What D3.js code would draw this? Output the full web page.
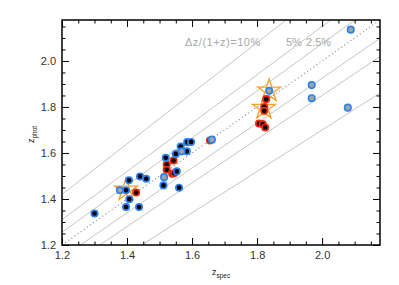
<!DOCTYPE html>
<html>
<head>
<meta charset="utf-8">
<script src="https://cdn.jsdelivr.net/npm/d3@7"></script>
<style>
  body { margin: 0; background: #fff; }
  text { font-family: "Liberation Sans", Arial, sans-serif; }
</style>
</head>
<body>
<div id="chart"></div>
<script>
// values
var majorTicks = [1.2, 1.4, 1.6, 1.8, 2.0];
var offsets = [0.025, 0.05, 0.1];

// blue ring, black centre
var blueSpec = [1.300, 1.397, 1.406, 1.407, 1.397, 1.437, 1.440, 1.459, 1.519, 1.512, 1.550, 1.565, 1.584, 1.585, 1.597, 1.560, 1.553];
var bluePhot = [1.337, 1.438, 1.481, 1.399, 1.365, 1.365, 1.498, 1.488, 1.579, 1.459, 1.596, 1.628, 1.607, 1.647, 1.648, 1.449, 1.520];

// blue ring, grey centre
var greySpec = [1.378, 1.514, 1.568, 1.661, 1.837, 1.968, 1.968, 2.079, 2.088];
var greyPhot = [1.438, 1.495, 1.607, 1.658, 1.870, 1.895, 1.838, 1.797, 2.136];

// red ring, black centre
var redSpec = [1.428, 1.522, 1.522, 1.543, 1.539, 1.545, 1.655, 1.828, 1.822, 1.822, 1.806, 1.817, 1.825];
var redPhot = [1.428, 1.550, 1.527, 1.567, 1.510, 1.512, 1.654, 1.834, 1.800, 1.783, 1.728, 1.726, 1.711];

// orange stars
var starSpec = [1.397, 1.837, 1.821];
var starPhot = [1.440, 1.870, 1.795];

var width = 399, height = 285;
var margin = { left: 62, right: 19, top: 20, bottom: 40 };

var svg = d3.select("#chart")
    .append("svg")
    .attr("width", width)
    .attr("height", height);

var x = d3.scaleLinear().domain([1.2, 2.178]).range([margin.left, width - margin.right]);
var y = d3.scaleLinear().domain([1.2, 2.178]).range([height - margin.bottom, margin.top]);

var minorTicks = d3.range(1.2, 2.18, 0.05).filter(function (v) {
    return Math.abs(Math.round(v * 5) - v * 5) > 0.01;
});

svg.append("clipPath")
    .attr("id", "plotClip")
    .append("rect")
    .attr("x", x.range()[0])
    .attr("y", y.range()[1])
    .attr("width", x.range()[1] - x.range()[0])
    .attr("height", y.range()[0] - y.range()[1]);

var plot = svg.append("g").attr("clip-path", "url(#plotClip)");

// offset lines  zphot = zspec +- k (1 + zspec)
offsets.forEach(function (k) {
    [1, -1].forEach(function (s) {
        var a = 1.0, b = 2.3;
        plot.append("line")
            .attr("x1", x(a)).attr("y1", y(a + s * k * (1 + a)))
            .attr("x2", x(b)).attr("y2", y(b + s * k * (1 + b)))
            .attr("stroke", "#c4c4c4")
            .attr("stroke-width", 1);
    });
});

plot.append("line")
    .attr("x1", x(1.2)).attr("y1", y(1.2))
    .attr("x2", x(2.3)).attr("y2", y(2.3))
    .attr("stroke", "#9a9a9a")
    .attr("stroke-width", 1.2)
    .attr("stroke-dasharray", "1.2,2.6");

// stars
var star = d3.symbol().type(d3.symbolStar).size(160);
svg.append("g").selectAll("path")
    .data(starSpec)
    .join("path")
    .attr("d", star)
    .attr("transform", function (d, i) {
        return "translate(" + x(d) + "," + y(starPhot[i]) + ")";
    })
    .attr("fill", "none")
    .attr("stroke", "#f5a027")
    .attr("stroke-width", 1.3);

function dots(spec, phot, ring, fill) {
    svg.append("g").selectAll("circle")
        .data(spec)
        .join("circle")
        .attr("cx", function (d) { return x(d); })
        .attr("cy", function (d, i) { return y(phot[i]); })
        .attr("r", 3.2)
        .attr("fill", fill)
        .attr("stroke", ring)
        .attr("stroke-width", 1.7);
}

dots(redSpec, redPhot, "#ee2a10", "#000");
dots(blueSpec, bluePhot, "#2f80ec", "#000");
dots(greySpec, greyPhot, "#2f80ec", "#a3a3a3");

// axes, ticks pointing inwards on all four sides
function ticks(axis, values, size, labels) {
    return axis.tickValues(values)
        .tickSize(-size)
        .tickPadding(6)
        .tickFormat(labels ? d3.format(".1f") : "");
}

var gb = svg.append("g").attr("transform", "translate(0," + y.range()[0] + ")");
gb.call(ticks(d3.axisBottom(x), majorTicks, 7, true));
gb.append("g").call(ticks(d3.axisBottom(x), minorTicks, 3.5, false));

var gt = svg.append("g").attr("transform", "translate(0," + y.range()[1] + ")");
gt.call(ticks(d3.axisTop(x), majorTicks, 7, false));
gt.append("g").call(ticks(d3.axisTop(x), minorTicks, 3.5, false));

var gl = svg.append("g").attr("transform", "translate(" + x.range()[0] + ",0)");
gl.call(ticks(d3.axisLeft(y), majorTicks, 7, true));
gl.append("g").call(ticks(d3.axisLeft(y), minorTicks, 3.5, false));

var gr = svg.append("g").attr("transform", "translate(" + x.range()[1] + ",0)");
gr.call(ticks(d3.axisRight(y), majorTicks, 7, false));
gr.append("g").call(ticks(d3.axisRight(y), minorTicks, 3.5, false));

svg.selectAll(".domain").remove();
svg.selectAll(".tick line").attr("stroke", "#000").attr("stroke-width", 1);
svg.selectAll(".tick text")
    .attr("fill", "#333")
    .style("font-size", "11px");

svg.append("rect")
    .attr("x", x.range()[0])
    .attr("y", y.range()[1])
    .attr("width", x.range()[1] - x.range()[0])
    .attr("height", y.range()[0] - y.range()[1])
    .attr("fill", "none")
    .attr("stroke", "#000")
    .attr("stroke-width", 1.5);

// labels
var note = svg.append("g")
    .attr("fill", "#a8a8a8")
    .style("font-size", "11px");
note.append("text").attr("x", 185).attr("y", 46)
    .style("letter-spacing", "0.5px")
    .text("\u0394z/(1+z)=10%");
note.append("text").attr("x", 286).attr("y", 46).text("5%");
note.append("text").attr("x", 306).attr("y", 46).text("2.5%");

var xl = svg.append("text")
    .attr("x", 212).attr("y", 275)
    .attr("fill", "#222")
    .style("font-size", "9px");
xl.append("tspan").text("z");
xl.append("tspan").attr("dy", 3).style("font-size", "6.5px").text("spec");

var yl = svg.append("text")
    .attr("transform", "translate(34,143) rotate(-90)")
    .attr("fill", "#222")
    .style("font-size", "9px");
yl.append("tspan").text("z");
yl.append("tspan").attr("dy", 3).style("font-size", "6.5px").text("phot");
</script>
</body>
</html>
